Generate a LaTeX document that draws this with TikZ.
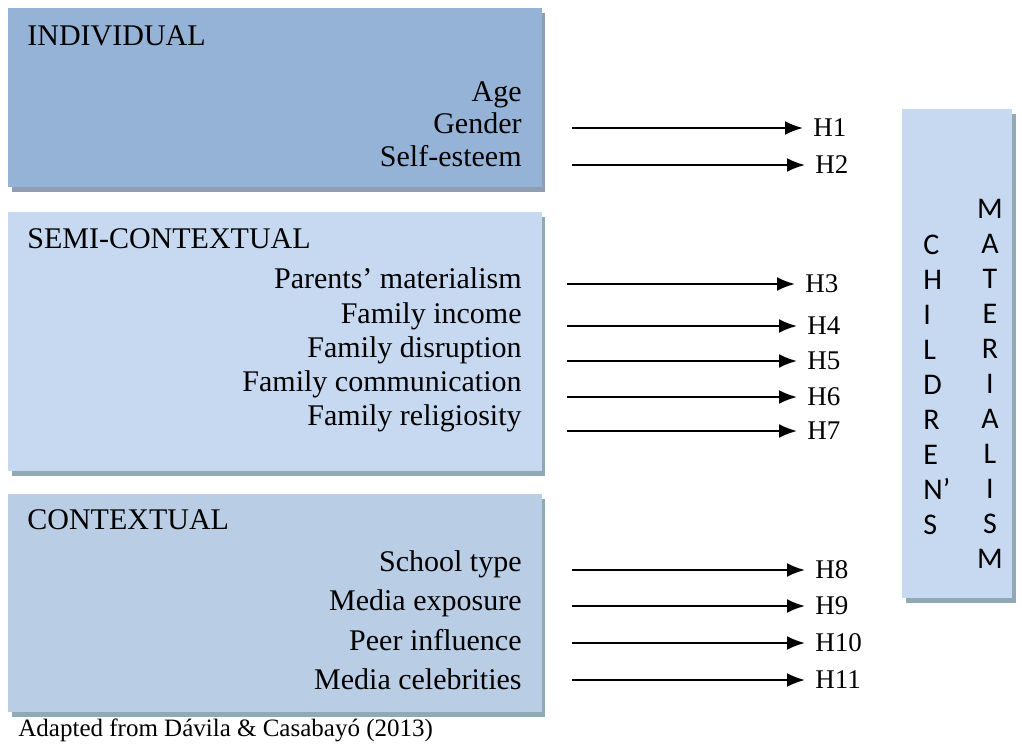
\documentclass[tikz,border=0pt]{standalone}
\usepackage{fontspec}
\setmainfont{Liberation Serif}
\newfontfamily\sansletters{Carlito}
\usetikzlibrary{arrows.meta}

\definecolor{indblue}{RGB}{149,179,215}
\definecolor{semiblue}{RGB}{198,217,240}
\definecolor{ctxblue}{RGB}{185,205,229}
\definecolor{matblue}{RGB}{198,217,240}
\definecolor{indshadow}{RGB}{143,158,178}
\definecolor{boxshadow}{RGB}{143,170,180}

\tikzset{
  factor/.style={font=\fontsize{15}{17}\selectfont, anchor=east, inner sep=0pt,
    text height=0.72em, text depth=0.22em},
  header/.style={font=\fontsize{15}{17}\selectfont, anchor=west, inner sep=0pt,
    text height=0.72em, text depth=0.22em},
  hyp/.style={font=\fontsize{13.5}{15}\selectfont, anchor=west, inner xsep=5pt, inner ysep=0pt},
  link/.style={-{Latex[length=9pt,width=7pt]}, line width=1.1pt},
  column/.style={font=\sansletters\fontsize{15}{17.5}\selectfont, inner sep=0pt}
}

\begin{document}
\begin{tikzpicture}[x=0.5pt,y=-0.5pt]
  \useasboundingbox (0,0) rectangle (1022,744);

  % boxes with their shadows
  \fill[indshadow] (12,13) rectangle (545,192);
  \fill[indblue] (8,8) rectangle (542,187);
  \fill[boxshadow] (12,217) rectangle (545,476);
  \fill[semiblue] (8,212) rectangle (542,471);
  \fill[boxshadow] (12,499) rectangle (545,717);
  \fill[ctxblue] (8,494) rectangle (542,712);
  \fill[boxshadow] (906,114) rectangle (1016,603);
  \fill[matblue] (902,109) rectangle (1012,598);

  % headers
  \node[header] (indiv) at (27,40) {INDIVIDUAL};
  \node[header] (semi) at (27,243) {SEMI-CONTEXTUAL};
  \node[header] (context) at (27,524) {CONTEXTUAL};

  % factors
  \node[factor] (age) at (522,96) {Age};
  \node[factor] (gender) at (522,128) {Gender};
  \node[factor] (esteem) at (522,161) {Self-esteem};
  \node[factor] (parmat) at (522,283) {Parents’ materialism};
  \node[factor] (faminc) at (522,318) {Family income};
  \node[factor] (famdis) at (522,352) {Family disruption};
  \node[factor] (famcom) at (522,386) {Family communication};
  \node[factor] (famrel) at (522,420) {Family religiosity};
  \node[factor] (school) at (522,566) {School type};
  \node[factor] (mediaexp) at (522,605) {Media exposure};
  \node[factor] (peer) at (522,645) {Peer influence};
  \node[factor] (celeb) at (522,684) {Media celebrities};

  % hypotheses
  \foreach \n/\sx/\tx/\y/\lab in {h1/572/803/128/H1, h2/572/805/165/H2,
      h3/567/795/284/H3, h4/567/797/326/H4, h5/567/797/361/H5,
      h6/567/797/397/H6, h7/567/797/431/H7, h8/572/805/570/H8,
      h9/572/805/606/H9, h10/572/805/643/H10, h11/572/805/680/H11}
  {
    \coordinate (s\n) at (\sx,\y);
    \node[hyp] (\n) at (\tx,\y) {\lab};
    \draw[link] (s\n) -- (\n.west);
  }

  % dependent variable
  \node[column, anchor=west, align=left] (children) at (923,385)
    {C\\H\\I\\L\\D\\R\\E\\N’\\S};
  \node[column, align=center] (materialism) at (990,384)
    {M\\A\\T\\E\\R\\I\\A\\L\\I\\S\\M};

  \node[anchor=west, inner sep=0pt, font=\fontsize{12.5}{15}\selectfont] (source) at (18,730)
    {Adapted from Dávila \& Casabayó (2013)};
\end{tikzpicture}
\end{document}
